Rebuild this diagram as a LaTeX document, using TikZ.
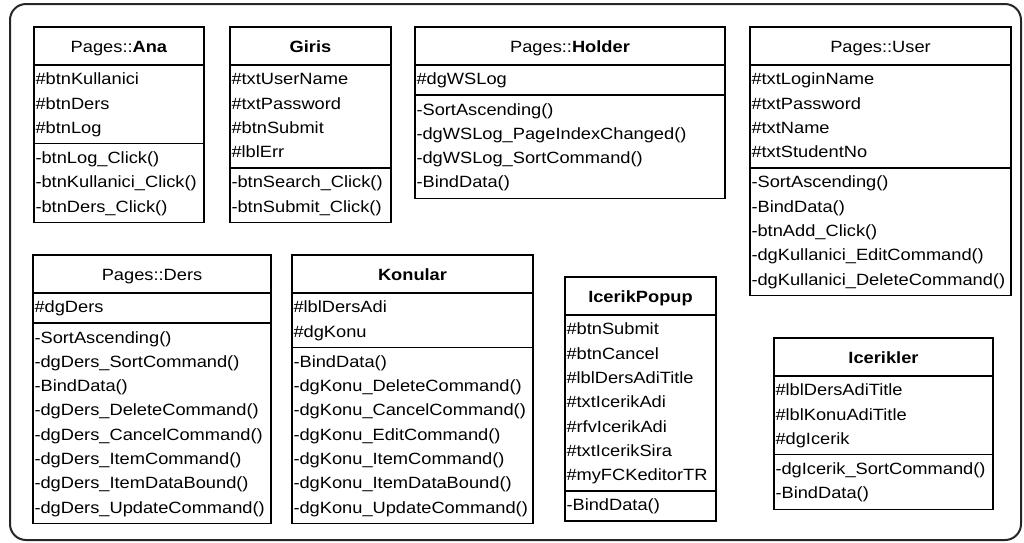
\documentclass[tikz,border=0pt]{standalone}
\usepackage{fontspec}
\setmainfont{Liberation Sans}[FakeStretch=1.12]
\usetikzlibrary{shapes.multipart}
\setlength{\parindent}{0pt}
\hyphenpenalty=10000
\exhyphenpenalty=10000
\newcommand\umlhd[1]{\hbox to\hsize{\hss\rule[-9.8pt]{0pt}{32pt}#1\hss}}
\newcommand\umlsec{\raggedright\strut}
\tikzset{
  umlclass/.style={rectangle split, rectangle split parts=3, draw=black,
    line width=1.3pt, inner xsep=1.5pt, inner ysep=2.3pt, outer sep=0pt,
    anchor=north west, font=\fontsize{16.3}{24.3}\selectfont},
  frame/.style={draw=black!85, line width=2pt, rounded corners=16pt}
}
\begin{document}
\begin{tikzpicture}[x=1pt,y=-1pt]
\useasboundingbox (0,0) rectangle (1024,542);
\draw[frame] (10,4) rectangle (1021,540);

\node[umlclass, text width=167pt] (ana) at (34,27)
 {\umlhd{Pages::\textbf{Ana}}
  \nodepart{two}\umlsec\#btnKullanici\\\strut\#btnDers\\\strut\#btnLog
  \nodepart{three}\umlsec-btnLog\_Click()\\\strut-btnKullanici\_Click()\\\strut-btnDers\_Click()};

\node[umlclass, text width=158pt] (giris) at (230,27)
 {\umlhd{\textbf{Giris}}
  \nodepart{two}\umlsec\#txtUserName\\\strut\#txtPassword\\\strut\#btnSubmit\\\strut\#lblErr
  \nodepart{three}\umlsec-btnSearch\_Click()\\\strut-btnSubmit\_Click()};

\node[umlclass, text width=307pt] (holder) at (415,27)
 {\umlhd{Pages::\textbf{Holder}}
  \nodepart{two}\umlsec\#dgWSLog
  \nodepart{three}\umlsec-SortAscending()\\\strut-dgWSLog\_PageIndexChanged()\\\strut-dgWSLog\_SortCommand()\\\strut-BindData()};

\node[umlclass, text width=258pt] (user) at (750,27)
 {\umlhd{Pages::User}
  \nodepart{two}\umlsec\#txtLoginName\\\strut\#txtPassword\\\strut\#txtName\\\strut\#txtStudentNo
  \nodepart{three}\umlsec-SortAscending()\\\strut-BindData()\\\strut-btnAdd\_Click()\\\strut-dgKullanici\_EditCommand()\\\strut-dgKullanici\_DeleteCommand()};

\node[umlclass, text width=235pt] (ders) at (33,255)
 {\umlhd{Pages::Ders}
  \nodepart{two}\umlsec\#dgDers
  \nodepart{three}\umlsec-SortAscending()\\\strut-dgDers\_SortCommand()\\\strut-BindData()\\\strut-dgDers\_DeleteCommand()\\\strut-dgDers\_CancelCommand()\\\strut-dgDers\_ItemCommand()\\\strut-dgDers\_ItemDataBound()\\\strut-dgDers\_UpdateCommand()};

\node[umlclass, text width=238pt] (konular) at (292,255)
 {\umlhd{\textbf{Konular}}
  \nodepart{two}\umlsec\#lblDersAdi\\\strut\#dgKonu
  \nodepart{three}\umlsec-BindData()\\\strut-dgKonu\_DeleteCommand()\\\strut-dgKonu\_CancelCommand()\\\strut-dgKonu\_EditCommand()\\\strut-dgKonu\_ItemCommand()\\\strut-dgKonu\_ItemDataBound()\\\strut-dgKonu\_UpdateCommand()};

\node[umlclass, text width=148pt] (popup) at (565,277)
 {\umlhd{\textbf{IcerikPopup}}
  \nodepart{two}\umlsec\#btnSubmit\\\strut\#btnCancel\\\strut\#lblDersAdiTitle\\\strut\#txtIcerikAdi\\\strut\#rfvIcerikAdi\\\strut\#txtIcerikSira\\\strut\#myFCKeditorTR
  \nodepart{three}\umlsec-BindData()};

\node[umlclass, text width=216pt] (icerikler) at (774,338)
 {\umlhd{\textbf{Icerikler}}
  \nodepart{two}\umlsec\#lblDersAdiTitle\\\strut\#lblKonuAdiTitle\\\strut\#dgIcerik
  \nodepart{three}\umlsec-dgIcerik\_SortCommand()\\\strut-BindData()};
\end{tikzpicture}
\end{document}
